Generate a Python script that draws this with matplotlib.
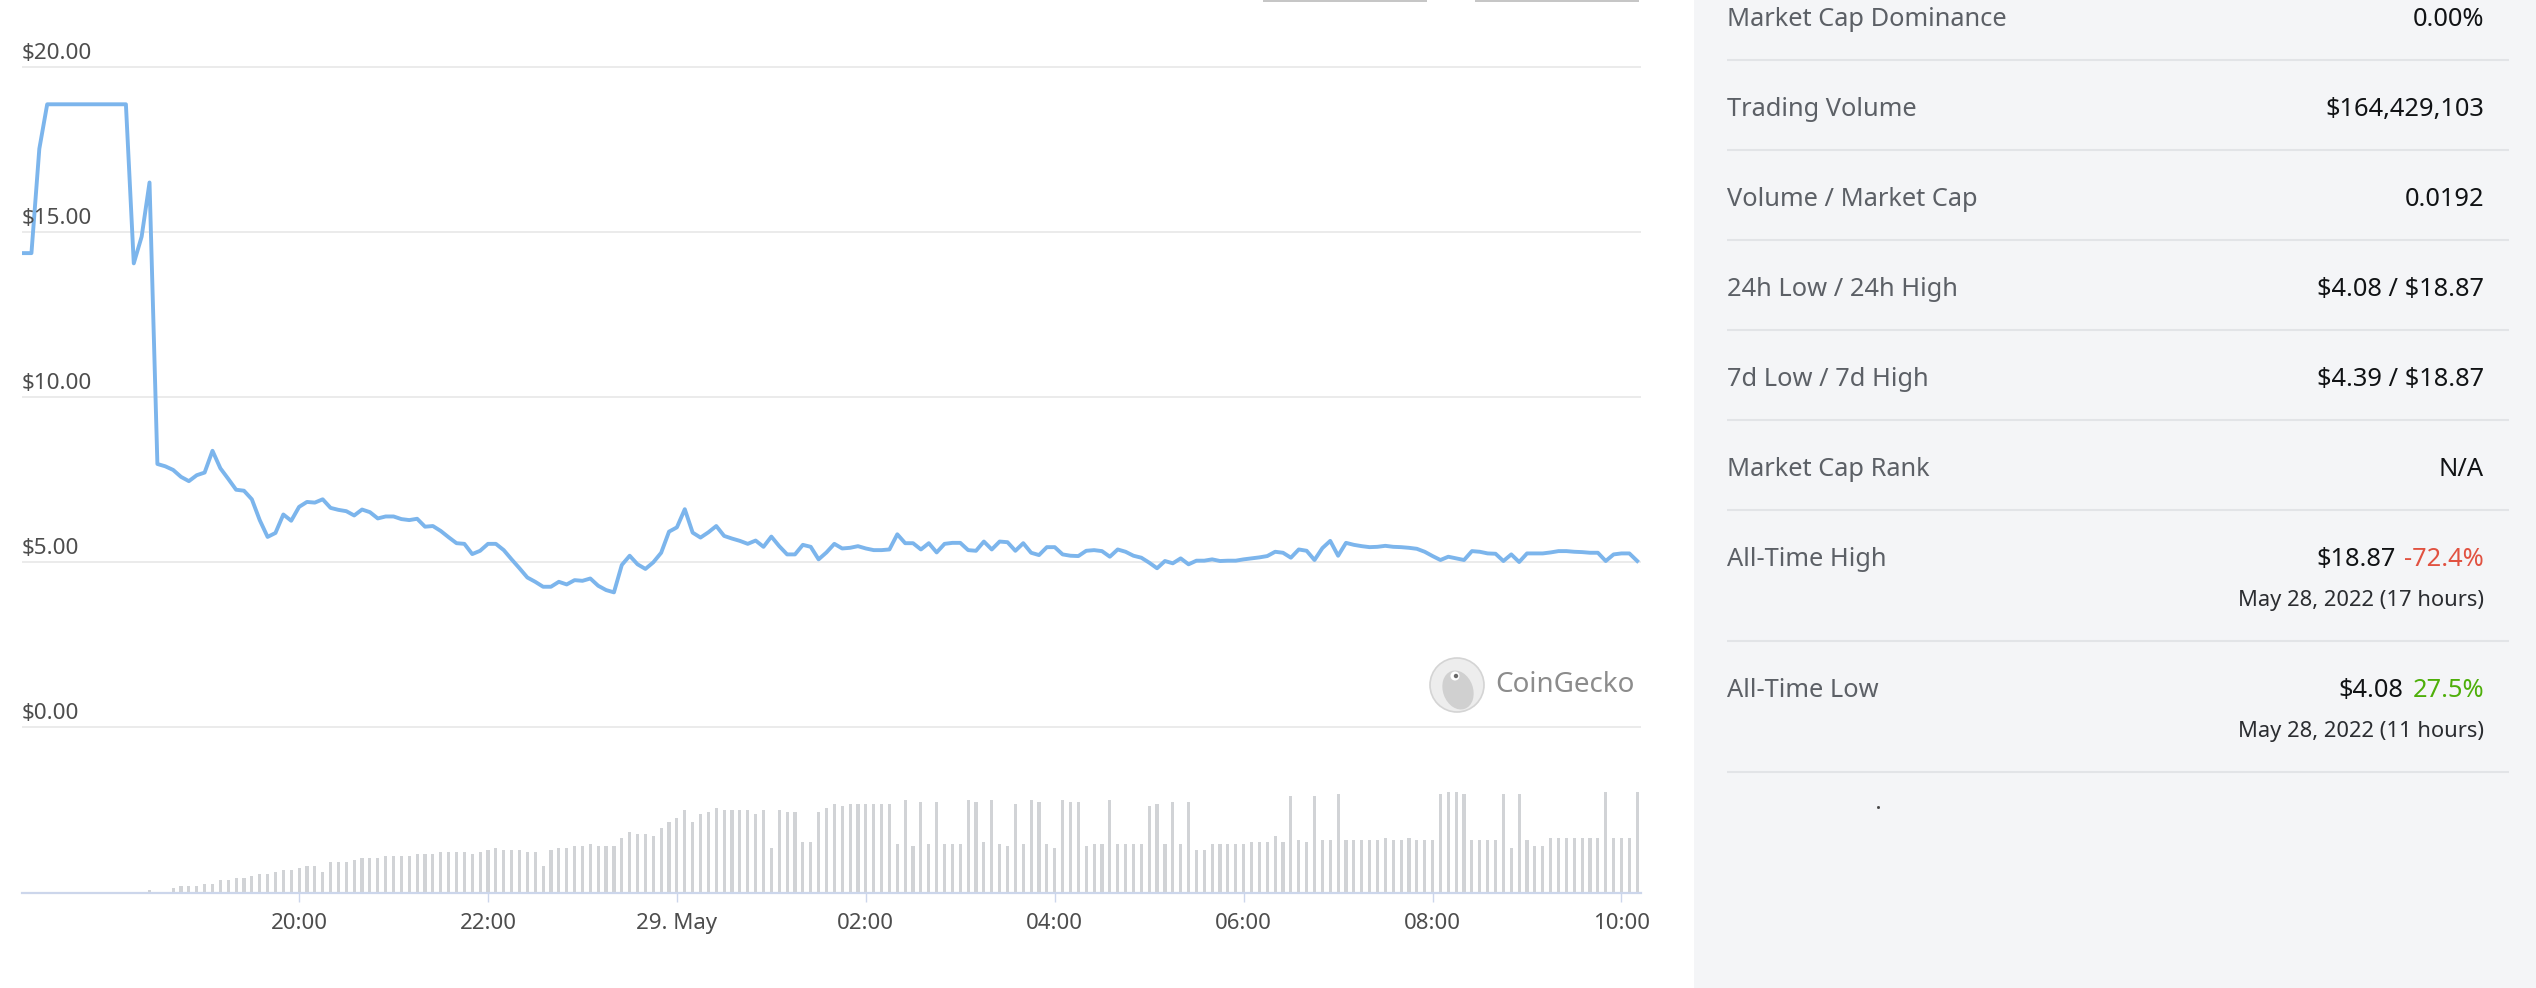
import matplotlib
matplotlib.use("Agg")
import matplotlib.pyplot as plt
import matplotlib.dates as mdates
import matplotlib.transforms as mtransforms
from matplotlib.patches import Rectangle, Circle, Ellipse
from matplotlib.ticker import FuncFormatter
import pandas as pd

W, H, DPI = 2536, 988, 100

# 5-minute samples, first one at 17:05 on May 28
start_time = "2022-05-28 17:05"
step = "5min"

price = [
    14.36, 14.36, 17.52, 18.87, 18.87, 18.87, 18.87, 18.87, 18.87, 18.87,
    18.87, 18.87, 18.87, 18.87, 14.05, 14.86, 16.50, 7.97, 7.90, 7.79,
    7.58, 7.45, 7.63, 7.71, 8.37, 7.84, 7.52, 7.19, 7.16, 6.90,
    6.27, 5.76, 5.88, 6.44, 6.25, 6.67, 6.82, 6.80, 6.90, 6.64,
    6.58, 6.54, 6.41, 6.59, 6.51, 6.32, 6.38, 6.38, 6.30, 6.27,
    6.31, 6.07, 6.09, 5.94, 5.75, 5.57, 5.55, 5.24, 5.34, 5.55,
    5.55, 5.36, 5.08, 4.81, 4.53, 4.40, 4.25, 4.25, 4.40, 4.32,
    4.45, 4.43, 4.50, 4.28, 4.15, 4.08, 4.91, 5.19, 4.93, 4.79,
    4.99, 5.28, 5.92, 6.05, 6.60, 5.89, 5.74, 5.90, 6.09, 5.79,
    5.71, 5.64, 5.55, 5.65, 5.46, 5.77, 5.48, 5.23, 5.23, 5.52,
    5.46, 5.08, 5.29, 5.55, 5.41, 5.43, 5.48, 5.41, 5.36, 5.36,
    5.38, 5.84, 5.57, 5.57, 5.38, 5.57, 5.29, 5.55, 5.58, 5.58,
    5.36, 5.34, 5.62, 5.38, 5.62, 5.60, 5.34, 5.57, 5.28, 5.21,
    5.45, 5.45, 5.23, 5.19, 5.18, 5.34, 5.36, 5.33, 5.16, 5.38,
    5.31, 5.19, 5.13, 4.98, 4.81, 5.03, 4.96, 5.11, 4.93, 5.04,
    5.04, 5.08, 5.03, 5.04, 5.04, 5.08, 5.11, 5.14, 5.18, 5.31,
    5.28, 5.13, 5.38, 5.34, 5.06, 5.42, 5.64, 5.19, 5.58, 5.52,
    5.48, 5.45, 5.46, 5.49, 5.46, 5.45, 5.43, 5.40, 5.31, 5.18,
    5.06, 5.16, 5.11, 5.06, 5.33, 5.31, 5.26, 5.25, 5.03, 5.23,
    5.00, 5.26, 5.26, 5.26, 5.29, 5.33, 5.33, 5.31, 5.30, 5.28,
    5.28, 5.03, 5.23, 5.26, 5.26, 5.03,
]

# volume axis is unlabeled, so these are relative units
volume = [
    0, 0, 0, 0, 0, 0, 0, 0, 0, 0,
    0, 0, 0, 0, 0, 0, 8, 0, 0, 14,
    20, 20, 20, 26, 26, 38, 38, 44, 44, 50,
    56, 56, 62, 68, 68, 74, 80, 80, 62, 92,
    92, 92, 98, 104, 104, 104, 110, 110, 110, 110,
    116, 116, 116, 122, 122, 122, 122, 116, 122, 128,
    134, 128, 128, 128, 122, 122, 80, 128, 134, 134,
    140, 140, 146, 140, 140, 140, 164, 182, 176, 176,
    170, 194, 212, 224, 248, 212, 236, 242, 254, 248,
    248, 248, 248, 236, 248, 134, 248, 242, 242, 152,
    152, 242, 254, 266, 260, 266, 266, 266, 266, 266,
    266, 146, 278, 140, 272, 146, 272, 146, 146, 146,
    278, 272, 152, 278, 146, 140, 266, 146, 278, 272,
    146, 134, 278, 272, 272, 140, 146, 146, 278, 146,
    146, 146, 146, 260, 266, 146, 272, 146, 272, 128,
    128, 146, 146, 146, 146, 146, 152, 152, 152, 170,
    152, 290, 158, 152, 290, 158, 158, 296, 158, 158,
    158, 158, 158, 164, 158, 158, 164, 158, 158, 158,
    296, 302, 302, 296, 158, 158, 158, 158, 296, 134,
    296, 158, 140, 140, 164, 164, 164, 164, 164, 164,
    164, 302, 164, 164, 164, 302,
]

y_ticks = [0, 5, 10, 15, 20]
y_tick_labels = ["$0.00", "$5.00", "$10.00", "$15.00", "$20.00"]

x_ticks = ["2022-05-28 20:00", "2022-05-28 22:00", "2022-05-29 00:00", "2022-05-29 02:00",
           "2022-05-29 04:00", "2022-05-29 06:00", "2022-05-29 08:00", "2022-05-29 10:00"]

stat_labels = ["Market Cap Dominance", "Trading Volume", "Volume / Market Cap",
               "24h Low / 24h High", "7d Low / 7d High", "Market Cap Rank"]
stat_values = ["0.00%", "$164,429,103", "0.0192",
               "$4.08 / $18.87", "$4.39 / $18.87", "N/A"]

ath_value, ath_change, ath_date = "$18.87", "-72.4%", "May 28, 2022 (17 hours)"
atl_value, atl_change, atl_date = "$4.08", "27.5%", "May 28, 2022 (11 hours)"

plt.rcParams['font.family'] = ['Noto Sans', 'DejaVu Sans']
plt.rcParams['text.parse_math'] = False

times = pd.date_range(start_time, periods=len(price), freq=step)
tnum = mdates.date2num(times.to_pydatetime())
tick_num = mdates.date2num(pd.to_datetime(x_ticks).to_pydatetime())
minute = 1.0 / 1440

fig = plt.figure(figsize=(W / DPI, H / DPI), dpi=DPI)
fig.patch.set_facecolor('white')

# background layer in pixel coordinates (panel, logo, decorations)
bg = fig.add_axes([0, 0, 1, 1], zorder=0)
bg.set_xlim(0, W)
bg.set_ylim(H, 0)
bg.axis('off')

bg.add_patch(Rectangle((1694, 0), W - 1694, H, color='#f4f5f7', lw=0))
for x0, x1 in [(1263, 1427), (1475, 1639)]:
    bg.add_patch(Rectangle((x0, 0), x1 - x0, 2.5, color='#c6c6c6', lw=0))

# stats panel
lab_x, val_x = 1727, 2484
label_color, value_color = '#5c6066', '#111315'
val_weight = 'semibold'
for i, (lab, val) in enumerate(zip(stat_labels, stat_values)):
    base = 25.7 + 90 * i
    bg.text(lab_x, base, lab, fontsize=18.3, color=label_color, va='baseline')
    bg.text(val_x, base, val, fontsize=18.3, color=value_color, va='baseline', ha='right',
            fontweight=val_weight)

for y in [60, 150, 240, 330, 420, 510, 641, 772]:
    bg.plot([1727, 2509], [y, y], color='#e2e4e7', lw=1.5, solid_capstyle='butt')


def two_part(y, main, change, color):
    t = bg.text(val_x, y, change, fontsize=18.3, color=color, va='baseline', ha='right',
                fontweight=val_weight)
    fig.canvas.draw()
    bb = t.get_window_extent()
    x_left = bg.transData.inverted().transform((bb.x0, bb.y0))[0]
    bg.text(x_left - 9, y, main, fontsize=18.3, color=value_color, va='baseline', ha='right',
            fontweight=val_weight)


bg.text(lab_x, 566, "All-Time High", fontsize=18.3, color=label_color, va='baseline')
two_part(566, ath_value, ath_change, '#e15241')
bg.text(val_x, 606, ath_date, fontsize=15.8, color='#2b2d31', va='baseline', ha='right')

bg.text(lab_x, 697, "All-Time Low", fontsize=18.3, color=label_color, va='baseline')
two_part(697, atl_value, atl_change, '#4eaf0a')
bg.text(val_x, 737, atl_date, fontsize=15.8, color='#2b2d31', va='baseline', ha='right')

bg.plot([1878], [807], marker='s', ms=1, color='#444444')

# CoinGecko credit
bg.add_patch(Circle((1457, 685), 27, facecolor='#ededed', edgecolor='#d4d4d4', lw=1.2))
bg.add_patch(Ellipse((1458, 690), 30, 40, angle=-20, facecolor='#d0d0d0', lw=0))
bg.add_patch(Circle((1455, 676), 4.5, facecolor='white', lw=0))
bg.add_patch(Circle((1456, 676), 2.2, facecolor='#6a6a6a', lw=0))
bg.text(1495, 685, "CoinGecko", fontsize=20, color='#8c8c8c', va='center', ha='left')

# price pane: 33 px per dollar, $0 at y=727, $20 at y=67
px_left, px_right = 22, 1641
pad_val = 0.5
ax = fig.add_axes([px_left / W, 1 - (727 + 33 * pad_val) / H,
                   (px_right - px_left) / W, (660 + 66 * pad_val) / H], zorder=1)
ax.set_facecolor('none')
ax.plot(tnum, price, color='#7cb5ec', lw=2.8, solid_joinstyle='round', zorder=3)
ax.set_ylim(-pad_val, 20 + pad_val)
ax.set_yticks(y_ticks)
ax.yaxis.grid(True, color='#ebebeb', lw=1.4)
ax.tick_params(left=False, labelleft=False, bottom=False, labelbottom=False)
for s in ax.spines.values():
    s.set_visible(False)

lab_trans = mtransforms.offset_copy(
    mtransforms.blended_transform_factory(ax.transAxes, ax.transData),
    fig=fig, x=0, y=3, units='dots')
for v, lab in zip(y_ticks, y_tick_labels):
    ax.text(0, v, lab, transform=lab_trans, ha='left', va='bottom',
            fontsize=16.2, color='#4d4d4d')

# volume pane
axv = fig.add_axes([px_left / W, 1 - 893 / H, (px_right - px_left) / W, (893 - 745) / H],
                   zorder=1)
axv.set_facecolor('none')
axv.bar(tnum, volume, width=2 * minute, color='#d1d3d6', lw=0)
axv.set_ylim(0, max(volume) * 1.467)
axv.set_yticks([])
for name, s in axv.spines.items():
    s.set_visible(name == 'bottom')
axv.spines['bottom'].set_color('#ccd6eb')
axv.spines['bottom'].set_linewidth(1.6)


def fmt_time(x, pos=None):
    d = mdates.num2date(x)
    if d.hour == 0 and d.minute == 0:
        return f"{d.day}. {d:%b}"
    return d.strftime("%H:%M")


axv.set_xticks(tick_num)
axv.xaxis.set_major_formatter(FuncFormatter(fmt_time))
axv.tick_params(axis='x', length=6.5, width=1.0, color='#ccd6eb',
                labelsize=16, labelcolor='#4d4d4d', pad=8)

x0 = tnum[0] - 1.0 * minute
x1 = tnum[-1] + 2.4 * minute
ax.set_xlim(x0, x1)
axv.set_xlim(x0, x1)

fig.savefig("out.png", dpi=DPI, facecolor=fig.get_facecolor())
